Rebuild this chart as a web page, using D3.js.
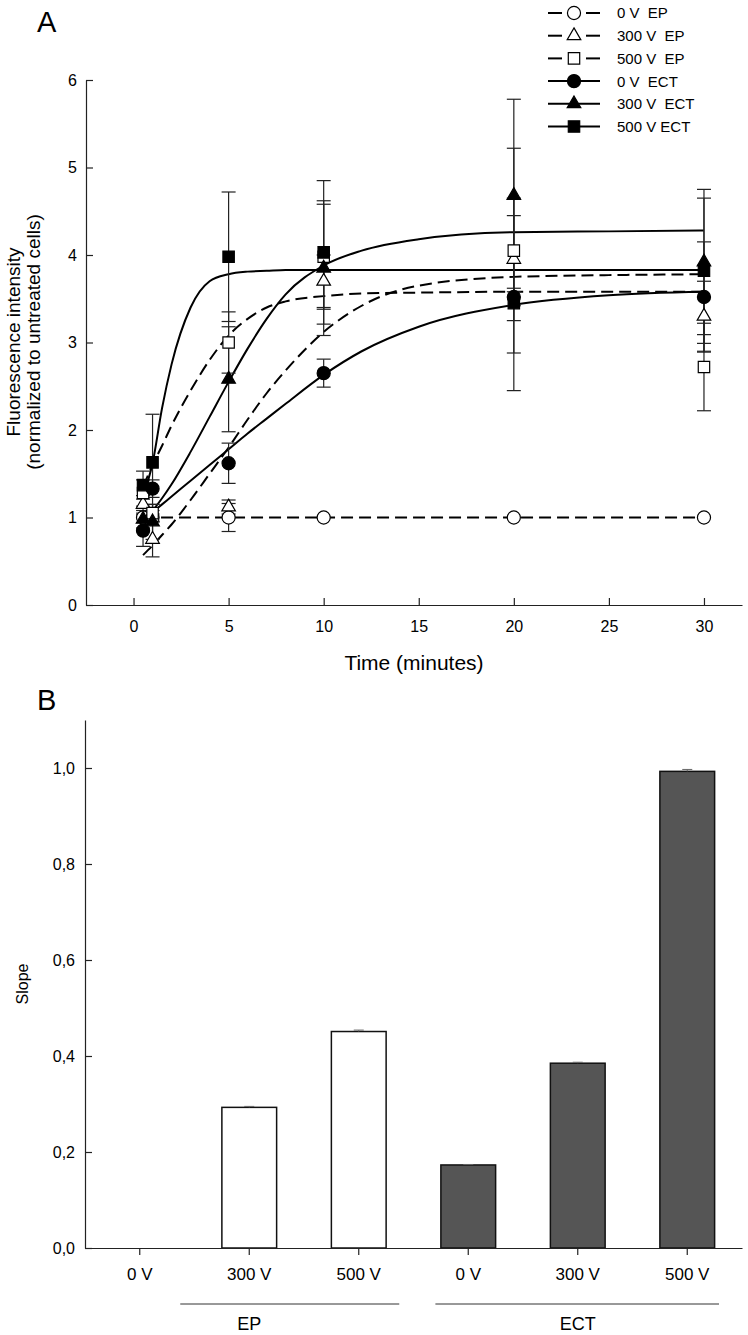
<!DOCTYPE html>
<html>
<head>
<meta charset="utf-8">
<script src="https://cdn.jsdelivr.net/npm/d3@7"></script>
<style>
body{margin:0;background:#fff;}
svg text{font-family:Arial,"Liberation Sans",sans-serif;fill:#000;}
.axis path,.axis line{stroke:#222;stroke-width:1.2px;}
.axis text{font-size:16px;}
</style>
</head>
<body>
<div id="canvas" style="width:748px;height:1335px"></div>
<script>
// panel A : measured points
var times = [0.5, 1, 5, 10, 20, 30];
var ep0 = [1.0, 1.0, 1.0, 1.0, 1.0, 1.0],
    ep0Err = [0.02, 0.04, 0.16, 0.02, 0.02, 0.02];
var ep300 = [1.15, 0.75, 1.12, 3.70, 3.95, 3.30],
    ep300Err = [0.1, 0.2, 0.08, 0.3, 0.7, 0.4];
var ep500 = [1.28, 1.05, 3.0, 3.98, 4.05, 2.72],
    ep500Err = [0.15, 0.1, 0.35, 0.6, 1.17, 0.5];
var ect0 = [0.85, 1.33, 1.62, 2.65, 3.52, 3.52],
    ect0Err = [0.18, 0.1, 0.23, 0.16, 0.1, 0.63];
var ect300 = [0.98, 0.95, 2.58, 3.85, 4.68, 3.92],
    ect300Err = [0.1, 0.2, 0.6, 0.77, 1.1, 0.83];
var ect500 = [1.37, 1.63, 3.98, 4.03, 3.45, 3.82],
    ect500Err = [0.16, 0.55, 0.74, 0.82, 1.0, 0.83];

// panel A : fitted curves
var fitT = [0.5, 1, 1.5, 2, 3, 4, 5, 6, 7, 8, 10, 12, 15, 20, 25, 30];
var ep0Fit = [1, 1, 1, 1, 1, 1, 1, 1, 1, 1, 1, 1, 1, 1, 1, 1];
var ep300Fit = [0.57, 0.68, 0.8, 0.92, 1.2, 1.5, 1.8, 2.12, 2.42, 2.68, 3.12, 3.42, 3.65, 3.75, 3.77, 3.78];
var ep500Fit = [1.35, 1.6, 1.82, 2.05, 2.45, 2.8, 3.08, 3.27, 3.4, 3.47, 3.53, 3.56, 3.57, 3.58, 3.58, 3.58];
var ect0Fit = [0.97, 1.06, 1.15, 1.24, 1.42, 1.6, 1.78, 1.96, 2.13, 2.3, 2.63, 2.9, 3.18, 3.43, 3.54, 3.58];
var ect300Fit = [0.98, 1.08, 1.22, 1.38, 1.75, 2.15, 2.55, 2.93, 3.27, 3.55, 3.88, 4.05, 4.18, 4.26, 4.27, 4.28];
var ect500Fit = [1.25, 1.62, 2.25, 2.75, 3.4, 3.7, 3.78, 3.81, 3.82, 3.83, 3.83, 3.83, 3.83, 3.83, 3.83, 3.83];

var xTicksA = [0, 5, 10, 15, 20, 25, 30];
var yTicksA = [0, 1, 2, 3, 4, 5, 6];

// panel B : slopes
var voltLabels = ['0 V', '300 V', '500 V', '0 V ', '300 V ', '500 V '];
var slopes = [0, 0.293, 0.451, 0.173, 0.385, 0.993];
var slopeErr = [0, 0.002, 0.003, 0.001, 0.002, 0.004];
var yTicksB = [0, 0.2, 0.4, 0.6, 0.8, 1.0];
var groupNames = ['EP', 'ECT'];

var series = [
    {name:'0 V  EP',   v:ep0,    e:ep0Err,    fit:ep0Fit,    shape:'circle',   filled:false},
    {name:'300 V  EP', v:ep300,  e:ep300Err,  fit:ep300Fit,  shape:'triangle', filled:false},
    {name:'500 V  EP', v:ep500,  e:ep500Err,  fit:ep500Fit,  shape:'square',   filled:false},
    {name:'0 V  ECT',  v:ect0,   e:ect0Err,   fit:ect0Fit,   shape:'circle',   filled:true},
    {name:'300 V  ECT',v:ect300, e:ect300Err, fit:ect300Fit, shape:'triangle', filled:true},
    {name:'500 V ECT', v:ect500, e:ect500Err, fit:ect500Fit, shape:'square',   filled:true}
];

var svg = d3.select('#canvas').append('svg')
    .attr('width', 748).attr('height', 1335);

function symbolPath(shape){
    if(shape == 'circle') return d3.symbol(d3.symbolCircle, 135)();
    if(shape == 'triangle') return d3.symbol(d3.symbolTriangle, 80)();
    return d3.symbol(d3.symbolSquare, 130)();
}

/* ---------- panel A ---------- */
var mA = {t:80, l:86},
    wA = 656, hA = 525;
var plotA = svg.append('g').attr('transform','translate('+mA.l+','+mA.t+')');

var x = d3.scaleLinear().domain([-2.5, 32]).range([0, wA]);
var y = d3.scaleLinear().domain([0, 6]).range([hA, 0]);

plotA.append('g').attr('class','axis')
    .attr('transform','translate(0,'+hA+')')
    .call(d3.axisBottom(x).tickValues(xTicksA).tickFormat(d3.format('d'))
        .tickSizeInner(-7).tickSizeOuter(0).tickPadding(16));
plotA.append('g').attr('class','axis')
    .call(d3.axisLeft(y).tickValues(yTicksA).tickFormat(d3.format('d'))
        .tickSizeInner(-7).tickSizeOuter(0).tickPadding(9));

var line = d3.line()
    .x(function(d){return x(d[0])})
    .y(function(d){return y(d[1])})
    .curve(d3.curveMonotoneX);

series.forEach(function(s){
    plotA.append('path')
        .datum(fitT.map(function(t,i){return [t, s.fit[i]]}))
        .attr('d', line)
        .style('fill','none')
        .style('stroke','#000')
        .style('stroke-width','2px')
        .style('stroke-dasharray', s.filled ? null : '12,6');
});

// error bars
series.forEach(function(s){
    var g = plotA.append('g');
    times.forEach(function(t,i){
        if(s.e[i] < 0.03) return;
        var cx = x(t), y1 = y(s.v[i]+s.e[i]), y2 = y(s.v[i]-s.e[i]);
        g.append('line').attr('x1',cx).attr('x2',cx).attr('y1',y1).attr('y2',y2);
        g.append('line').attr('x1',cx-7).attr('x2',cx+7).attr('y1',y1).attr('y2',y1);
        g.append('line').attr('x1',cx-7).attr('x2',cx+7).attr('y1',y2).attr('y2',y2);
    });
    g.selectAll('line').style('stroke','#222').style('stroke-width','1.2px');
});

// markers
series.forEach(function(s){
    plotA.selectAll(null)
        .data(times.map(function(t,i){return [t, s.v[i]]}))
        .enter().append('path')
        .attr('d', symbolPath(s.shape))
        .attr('transform',function(d){return 'translate('+x(d[0])+','+y(d[1])+')'})
        .style('fill', s.filled ? '#000' : '#fff')
        .style('stroke','#000')
        .style('stroke-width','1.2px');
});

// titles
svg.append('text').attr('x',37).attr('y',32).style('font-size','29px').text('A');
svg.append('text').attr('x',414).attr('y',670).attr('text-anchor','middle')
    .style('font-size','21px').text('Time (minutes)');
var yt = svg.append('text').attr('transform','translate(0,342) rotate(-90)')
    .attr('text-anchor','middle').style('font-size','19px');
yt.append('tspan').attr('x',0).attr('y',20).text('Fluorescence intensity');
yt.append('tspan').attr('x',0).attr('y',40).text('(normalized to untreated cells)');

// legend
var leg = svg.append('g').attr('transform','translate(548,13)');
series.forEach(function(s,i){
    var r = leg.append('g').attr('transform','translate(0,'+(i*22.7)+')');
    if(s.filled){
        r.append('line').attr('x1',0).attr('x2',52);
    } else {
        r.append('line').attr('x1',0).attr('x2',14);
        r.append('line').attr('x1',38).attr('x2',52);
    }
    r.selectAll('line').attr('y1',0).attr('y2',0).style('stroke','#000').style('stroke-width','2px');
    r.append('path').attr('d', symbolPath(s.shape))
        .attr('transform','translate(26,0)')
        .style('fill', s.filled ? '#000' : '#fff')
        .style('stroke','#000').style('stroke-width','1.2px');
    r.append('text').attr('x',69).attr('dy','0.36em')
        .style('font-size','15px').style('white-space','pre').text(s.name);
});

/* ---------- panel B ---------- */
var mB = {t:720, l:85},
    wB = 657, hB = 528;
var plotB = svg.append('g').attr('transform','translate('+mB.l+','+mB.t+')');

var xb = d3.scaleBand().domain(voltLabels).range([0, wB]).paddingInner(0.5).paddingOuter(0.25);
var yb = d3.scaleLinear().domain([0, 1.1]).range([hB, 0]);

plotB.selectAll('.bar')
    .data(slopes.map(function(v,i){return {k:voltLabels[i], v:v, e:slopeErr[i], ect:i>2}}))
    .enter().filter(function(d){return d.v > 0})
    .append('rect').attr('class','bar')
    .attr('x',function(d){return xb(d.k)})
    .attr('width', xb.bandwidth())
    .attr('y',function(d){return yb(d.v)})
    .attr('height',function(d){return hB - yb(d.v)})
    .style('fill',function(d){return d.ect ? '#555555' : '#fff'})
    .style('stroke','#111').style('stroke-width','1.5px');

// tiny error caps
slopes.forEach(function(v,i){
    if(v <= 0) return;
    var cx = xb(voltLabels[i]) + xb.bandwidth()/2;
    plotB.append('line').attr('x1',cx-5).attr('x2',cx+5)
        .attr('y1',yb(v+slopeErr[i])).attr('y2',yb(v+slopeErr[i]))
        .style('stroke','#666').style('stroke-width','1px');
    plotB.append('line').attr('x1',cx).attr('x2',cx)
        .attr('y1',yb(v+slopeErr[i])).attr('y2',yb(v))
        .style('stroke','#666').style('stroke-width','1px');
});

var xAxisB = plotB.append('g').attr('class','axis')
    .attr('transform','translate(0,'+hB+')')
    .call(d3.axisBottom(xb).tickSizeInner(7).tickSizeOuter(0).tickPadding(13));
xAxisB.selectAll('text').style('font-size','17px');
plotB.append('g').attr('class','axis')
    .call(d3.axisLeft(yb).tickValues(yTicksB).tickSizeInner(-7).tickSizeOuter(0).tickPadding(10)
        .tickFormat(function(d){return d3.format('.1f')(d).replace('.',',')}));

// group underlines below the voltage labels
groupNames.forEach(function(name,gi){
    var c1 = xb(voltLabels[gi*3]) + xb.bandwidth()/2,
        c2 = xb(voltLabels[gi*3+2]) + xb.bandwidth()/2,
        x1 = gi == 0 ? c1 + 0.37*xb.step() : c1 - 0.3*xb.step(),
        x2 = gi == 0 ? c2 + 0.37*xb.step() : c2 + 0.29*xb.step();
    plotB.append('line').attr('x1',x1).attr('x2',x2).attr('y1',hB+56).attr('y2',hB+56)
        .style('stroke','#333').style('stroke-width','1px');
    plotB.append('text').attr('x',gi == 0 ? c2 - xb.step() : (c1+c2)/2).attr('y',hB+82)
        .attr('text-anchor','middle').style('font-size','18px').text(name);
});

svg.append('text').attr('x',37).attr('y',710).style('font-size','29px').text('B');
svg.append('text').attr('transform','translate(28,984) rotate(-90)')
    .attr('text-anchor','middle').style('font-size','16px').text('Slope');
</script>
</body>
</html>
